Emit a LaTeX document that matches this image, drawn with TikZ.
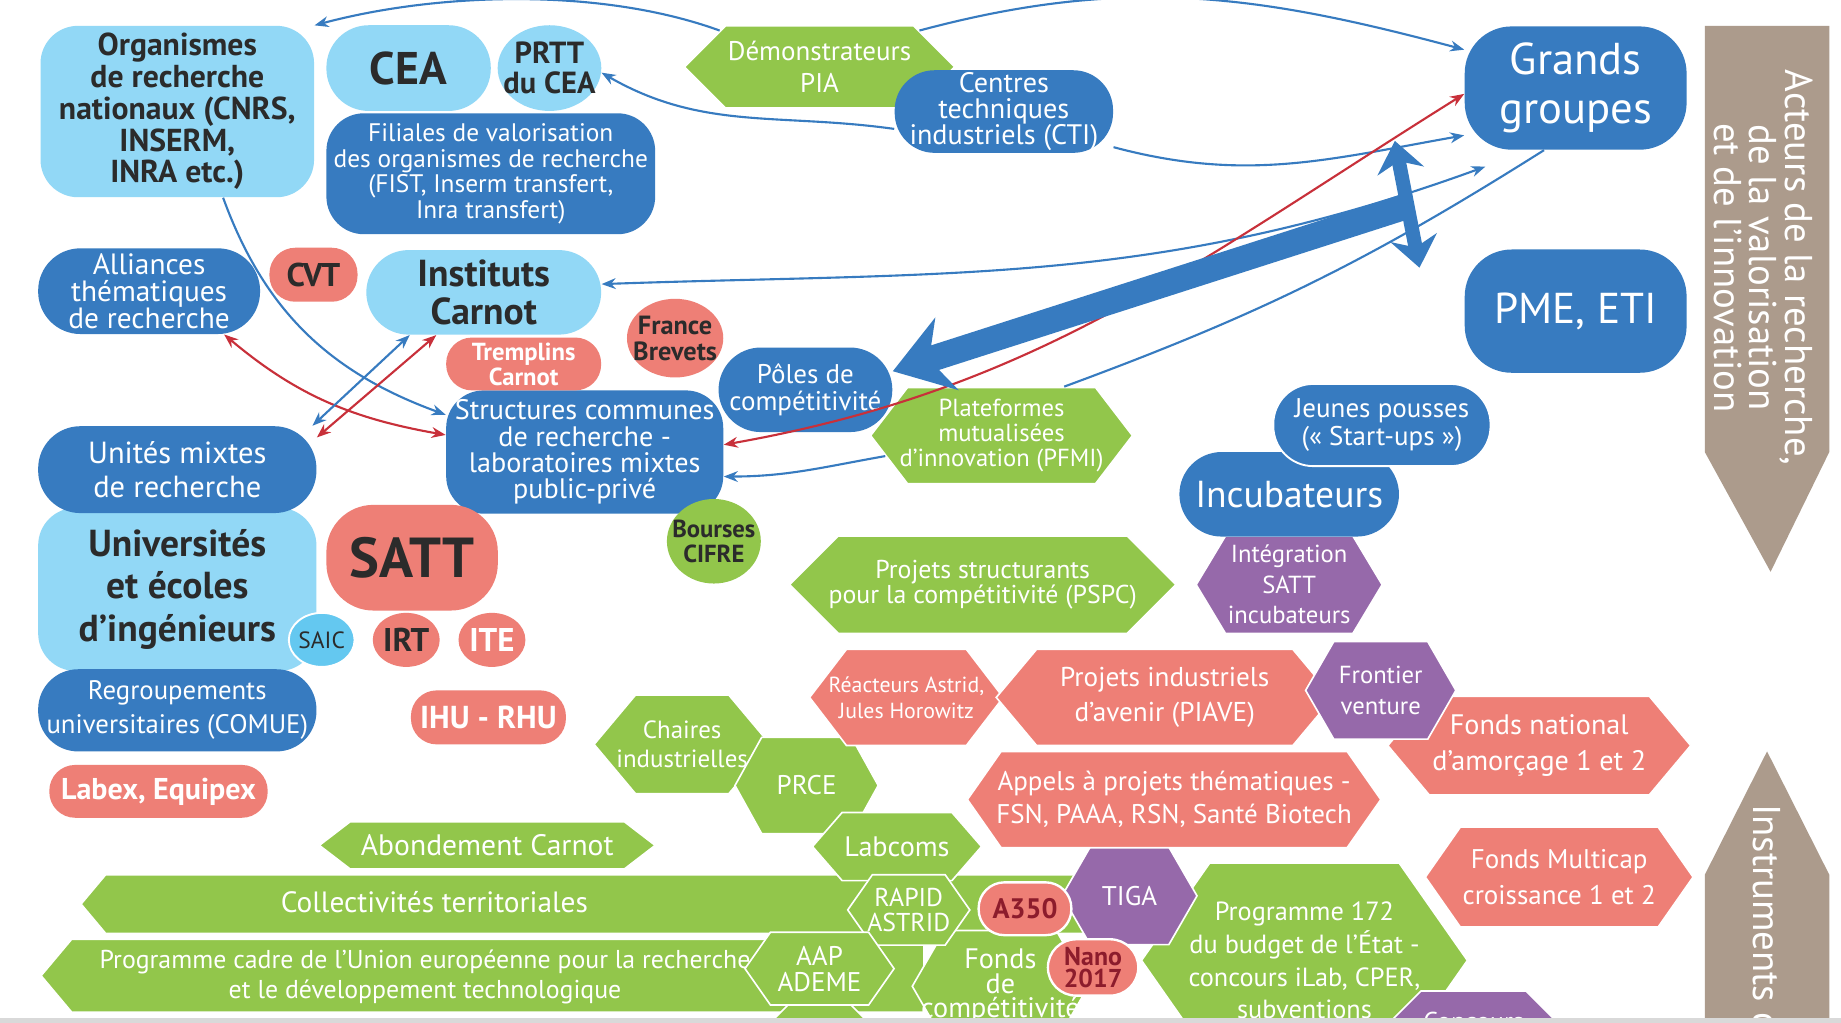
\documentclass[tikz,border=0pt]{standalone}
\usepackage{fontspec}
\setmainfont{PT Sans}
\usetikzlibrary{arrows.meta,calc,shapes.geometric,shapes.symbols}
\definecolor{skyblue}{RGB}{146,216,246}
\definecolor{deepblue}{RGB}{55,123,192}
\definecolor{salmon}{RGB}{238,127,118}
\definecolor{leaf}{RGB}{146,198,75}
\definecolor{plum}{RGB}{150,105,170}
\definecolor{taupe}{RGB}{172,155,140}
\definecolor{ink}{RGB}{43,43,43}
\definecolor{wine}{RGB}{140,28,44}
\definecolor{saicblue}{RGB}{100,200,240}
\definecolor{redline}{RGB}{200,48,58}
\newcommand{\setfs}[2]{\fontsize{#1}{#2}\selectfont}

\begin{document}
\begin{tikzpicture}[x=0.5pt, y=-0.5pt,
    dims/.style 2 args={minimum width=#1*0.5pt, minimum height=#2*0.5pt},
    box/.style={rounded corners=14pt, align=center, inner sep=1pt},
    deep/.style={box, fill=deepblue, text=white},
    pale/.style={box, fill=skyblue, text=ink},
    coral/.style={box, fill=salmon},
    blob/.style={ellipse, align=center, inner sep=0pt},
    hexa/.style={signal, signal to=east and west, align=center, inner sep=1pt, draw=white, line width=0.7pt, text=white},
    band/.style={signal, signal to=west, fill=leaf, draw=white, line width=0.7pt, inner sep=0pt},
    barb/.tip={Stealth[length=6pt,width=4.6pt]},
    wire/.style={deepblue, line width=0.9pt, -barb},
    plainwire/.style={deepblue, line width=0.9pt},
    duplex/.style={deepblue, line width=0.9pt, barb-barb},
    redwire/.style={redline, line width=0.9pt, barb-barb}]
  \fill[white] (0,0) rectangle (1568,871);
  \useasboundingbox (0,0) rectangle (1568,871);
  \begin{scope}
  \clip (0,0) rectangle (1568,868);

  \node[band, dims={865}{50}, signal pointer angle=100] (coll) at (512,770) {};
  \node[band, dims={752}{62}, signal pointer angle=100] (pcrd) at (424,831) {};
  \node[text=white, font=\setfs{12.5}{14}] (coll-t) at (370,768) {Collectivités territoriales};
  \node[text=white, align=center, font=\setfs{11}{12.5}] (pcrd-t) at (362,832) {Programme cadre de l’Union européenne pour la recherche\\et le développement technologique};

  \node[hexa, fill=leaf, dims={150}{95}, signal pointer angle=120, inner xsep=-10pt, font=\setfs{12}{10.5}] (fcomp) at (852,840) {Fonds\\de\\compétitivité};
  \node[hexa, fill=leaf, dims={273}{166}, signal pointer angle=110, inner xsep=-9pt, font=\setfs{11.2}{14}] (prog) at (1111,818) {Programme 172\\du budget de l’État -\\concours iLab, CPER,\\subventions};
  \node[hexa, fill=plum, dims={140}{52}, font=\setfs{11}{12}] (concours) at (1255,870) {Concours};
  \node[hexa, fill=leaf, dims={90}{54}, font=\setfs{11.5}{12}] (aap) at (698,878) {AAP};

  \node[hexa, fill=leaf, dims={150}{84}, signal pointer angle=100, inner xsep=-9pt, font=\setfs{10.6}{12.5}] (chaires) at (581,634) {Chaires\\industrielles};
  \node[hexa, fill=leaf, dims={122}{82}, signal pointer angle=122, font=\setfs{11.5}{13}] (prce) at (687,669) {PRCE};
  \node[hexa, fill=leaf, dims={286}{40}, signal pointer angle=75, font=\setfs{12.6}{13}] (abond) at (415,720) {Abondement Carnot};
  \node[hexa, fill=leaf, dims={144}{58}, signal pointer angle=98, font=\setfs{12}{13}] (labcoms) at (764,721) {Labcoms};
  \node[hexa, fill=leaf, dims={104}{60}, signal pointer angle=110, inner xsep=-3pt, font=\setfs{11}{11}] (rapid) at (774,775) {RAPID\\ASTRID};
  \node[hexa, fill=leaf, dims={127}{62}, signal pointer angle=110, font=\setfs{11.5}{11}] (ademe) at (698,825) {AAP\\ADEME};
  \node[hexa, fill=plum, dims={115}{83}, signal pointer angle=120, font=\setfs{11.5}{13}] (tiga) at (962,763) {TIGA};
  \node[coral, rounded corners=11pt, draw=white, line width=1pt, dims={79}{45}, text=wine, font=\setfs{12}{13}\bfseries] (a350) at (873,774) {A350};
  \node[coral, rounded corners=12pt, draw=white, line width=1pt, dims={77}{48}, text=wine, font=\setfs{11}{9.5}\bfseries] (nano) at (931,824) {Nano\\2017};

  \node[hexa, fill=salmon, dims={165}{82}, signal pointer angle=105, inner xsep=-9pt, font=\setfs{9.3}{11}] (astrid) at (772,594) {Réacteurs Astrid,\\Jules Horowitz};
  \node[hexa, fill=salmon, dims={287}{82}, signal pointer angle=100, font=\setfs{11.6}{15}] (piave) at (992,594) {Projets industriels\\d’avenir (PIAVE)};
  \node[hexa, fill=salmon, dims={258}{84}, signal pointer angle=100, font=\setfs{12}{15}] (fna) at (1311,635) {Fonds national\\d’amorçage 1 et 2};
  \node[hexa, fill=plum, dims={128}{83}, signal pointer angle=120, font=\setfs{10.5}{13}] (frontier) at (1176,588) {Frontier\\venture};
  \node[hexa, fill=salmon, dims={344}{82}, signal pointer angle=110, inner xsep=-2pt, font=\setfs{11.5}{14}] (aapthem) at (1000,681) {Appels à projets thématiques -\\FSN, PAAA, RSN, Santé Biotech};
  \node[hexa, fill=salmon, dims={225}{85}, signal pointer angle=110, font=\setfs{11.5}{15}] (multicap) at (1328,747) {Fonds Multicap\\croissance 1 et 2};

  \node[hexa, fill=leaf, dims={329}{83}, inner xsep=-5pt, font=\setfs{11}{11}] (pspc) at (837,498) {Projets structurants\\pour la compétitivité (PSPC)};
  \node[hexa, fill=plum, dims={157}{83}, signal pointer angle=118, font=\setfs{10.5}{13}] (integ) at (1098,498) {Intégration\\SATT\\incubateurs};
  \node[hexa, fill=leaf, dims={223}{82}, signal pointer angle=105, inner xsep=-4pt, font=\setfs{10.5}{10.5}] (pfmi) at (853,371) {Plateformes\\mutualisées\\d’innovation (PFMI)};
  \node[hexa, fill=leaf, dims={220}{70}, font=\setfs{11.5}{13.5}] (demo) at (698,57) {Démonstrateurs\\PIA};

  \node[deep, dims={187}{72}, rounded corners=18pt, font=\setfs{16}{16}] (incub) at (1098,421) {Incubateurs};
  \node[deep, dims={185}{70}, rounded corners=17pt, draw=white, line width=0.8pt, font=\setfs{11.5}{12}] (jeunes) at (1177,362) {Jeunes pousses\\(« Start-ups »)};
  \node[deep, dims={189}{105}, rounded corners=20pt, font=\setfs{19}{21}] (grands) at (1342,75) {Grands\\groupes};
  \node[deep, dims={189}{105}, rounded corners=20pt, font=\setfs{18.4}{18}] (pme) at (1342,265) {PME, ETI};
  \node[deep, dims={186}{70}, rounded corners=17pt, font=\setfs{12}{11}] (cti) at (855,95) {Centres\\techniques\\industriels (CTI)};
  \node[deep, dims={148}{72}, rounded corners=18pt, font=\setfs{11.5}{11.5}] (poles) at (686,332) {Pôles de\\compétitivité};
  \node[deep, dims={236}{105}, rounded corners=16pt, font=\setfs{12}{11.2}] (labmix) at (498,385) {Structures communes\\de recherche -\\laboratoires mixtes\\public-privé};
  \node[blob, fill=leaf, text=ink, dims={80}{72}, inner xsep=-4pt, font=\setfs{10.5}{10.5}\bfseries] (cifre) at (608,461) {Bourses\\CIFRE};

  \node[pale, dims={233}{146}, rounded corners=16pt, font=\setfs{13.5}{13.5}\bfseries] (org) at (151,95) {Organismes\\de recherche\\nationaux (CNRS,\\INSERM,\\INRA etc.)};
  \node[pale, dims={140}{73}, rounded corners=18pt, font=\setfs{19.5}{20}\bfseries] (cea) at (348,58) {CEA};
  \node[blob, fill=skyblue, text=ink, dims={87}{73}, inner xsep=-4pt, font=\setfs{13}{13}\bfseries] (prtt) at (468,58) {PRTT\\du CEA};
  \node[deep, dims={280}{103}, rounded corners=16pt, font=\setfs{10.8}{11}] (filiales) at (418,148) {Filiales de valorisation\\des organismes de recherche\\(FIST, Inserm transfert,\\Inra transfert)};
  \node[deep, dims={189}{73}, rounded corners=18pt, font=\setfs{12.5}{11.5}] (alliances) at (127,248) {Alliances\\thématiques\\de recherche};
  \node[coral, dims={75}{46}, rounded corners=11pt, text=ink, font=\setfs{14}{13}\bfseries] (cvt) at (267,234) {CVT};
  \node[pale, dims={200}{72}, rounded corners=18pt, font=\setfs{16}{16}\bfseries] (carnot) at (412,249) {Instituts\\Carnot};
  \node[coral, dims={132}{45}, rounded corners=11pt, text=white, font=\setfs{10.5}{9.5}\bfseries] (tremplins) at (446,310) {Tremplins\\Carnot};
  \node[blob, fill=salmon, text=ink, dims={82}{67}, inner xsep=-4.5pt, font=\setfs{11.2}{11}\bfseries] (brevets) at (575,288) {France\\Brevets};
  \node[pale, dims={237}{139}, rounded corners=16pt, font=\setfs{16}{18}\bfseries] (univ) at (151,502) {Universités\\et écoles\\d’ingénieurs};
  \node[deep, dims={237}{74}, rounded corners=18pt, font=\setfs{13}{14.5}] (umr) at (151,400) {Unités mixtes\\de recherche};
  \node[deep, dims={237}{70}, rounded corners=17pt, font=\setfs{11.4}{14.5}] (comue) at (151,605) {Regroupements\\universitaires (COMUE)};
  \node[blob, fill=saicblue, draw=white, line width=0.8pt, text=ink, dims={56}{46}, font=\setfs{10}{11}] (saic) at (274,545) {SAIC};
  \node[coral, dims={146}{90}, rounded corners=20pt, text=ink, font=\setfs{24}{26}\bfseries] (satt) at (351,475) {SATT};
  \node[blob, fill=salmon, text=ink, dims={57}{46}, font=\setfs{14}{13}\bfseries] (irt) at (346,545) {IRT};
  \node[blob, fill=salmon, text=white, dims={57}{46}, font=\setfs{14}{13}\bfseries] (ite) at (419,545) {ITE};
  \node[coral, dims={132}{46}, rounded corners=11pt, text=white, font=\setfs{13.5}{13}\bfseries] (ihu) at (416,611) {IHU - RHU};
  \node[coral, dims={186}{45}, rounded corners=11pt, text=white, font=\setfs{12.8}{13}\bfseries] (labex) at (135,674) {Labex, Equipex};

  \fill[taupe] (1452,22) -- (1558,22) -- (1558,385) -- (1508,487) -- (1452,385) -- cycle;
  \node[rotate=-90, text=white, align=center, font=\setfs{16.5}{15}] (acteurs) at (1502,228) {Acteurs de la recherche,\\de la valorisation\\et de l’innovation};
  \fill[taupe] (1452,745) -- (1505,640) -- (1558,745) -- (1558,880) -- (1452,880) -- cycle;
  \node[rotate=-90, anchor=west, text=white, font=\setfs{16.5}{15}] (instr) at (1505,678) {Instruments de};

  \draw[wire] (demo.160) to[out=160, in=15, looseness=0.8] (org.north east);
  \draw[wire] (demo.20) to[out=15, in=165] (grands.161);
  \draw[wire] (cti.189) to[out=172, in=-30] (prtt.-5);
  \draw[wire] (cti.-18) to[out=-15, in=190] (grands.203);
  \draw[duplex] (carnot.4) to[out=2, in=200] ($(grands.south west)+(18,14)$);
  \draw[plainwire] (grands.243) to[bend left=6] (pfmi.38);
  \draw[wire] (pfmi.190) to[out=190, in=0] (labmix.-10);
  \draw[redwire] (labmix.3) to[out=10, in=212] (grands.183);
  \coordinate (hub) at (1197,176);
  \coordinate (hubtop) at (1188,120);
  \coordinate (hubbot) at (1209,228);
  \draw[deepblue, line width=11pt, -{Stealth[length=24pt,width=32pt]}] (hub) -- (poles.12);
  \draw[deepblue, line width=6pt, {Stealth[length=13pt,width=20pt]}-{Stealth[length=13pt,width=20pt]}] (hubtop) -- (hubbot);
  \draw[wire] (org.-62) to[out=-70, in=160] (labmix.165);
  \draw[redwire] (alliances.-30) to[out=-40, in=170] (labmix.173);
  \draw[duplex] (umr.18) -- (carnot.210);
  \draw[redwire] (umr.13) -- (carnot.222);
  \end{scope}
  \fill[black!15] (0,867) rectangle (1568,871);
\end{tikzpicture}
\end{document}
